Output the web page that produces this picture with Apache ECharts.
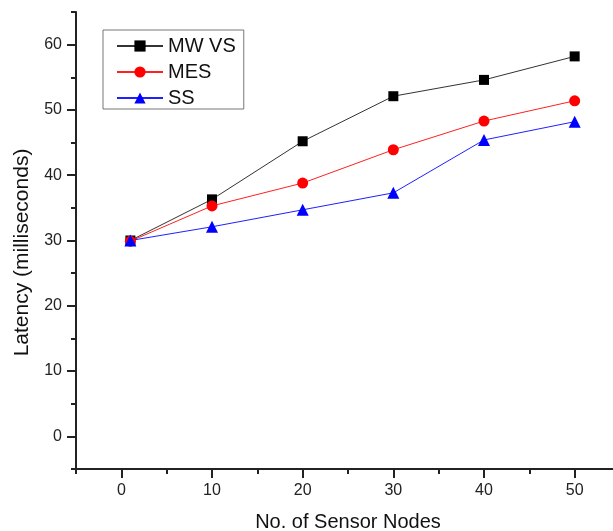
<!DOCTYPE html>
<html>
<head>
<meta charset="utf-8">
<script src="https://cdn.jsdelivr.net/npm/echarts@6/dist/echarts.min.js"></script>
<style>
  html, body { margin: 0; padding: 0; background: #fff; overflow: hidden; }
  #chart { width: 613px; height: 531px; }
</style>
</head>
<body>
<div id="chart"></div>
<script>
/* ---------- data ---------- */
const nodes = [1, 10, 20, 30, 40, 50];
const mwvs = [30.0, 36.3, 45.2, 52.1, 54.6, 58.2];
const mes = [29.9, 35.3, 38.8, 43.9, 48.3, 51.4];
const ss = [30.0, 32.1, 34.7, 37.3, 45.4, 48.2];
const xTicks = [0, 10, 20, 30, 40, 50];
const yTicks = [0, 10, 20, 30, 40, 50, 60];

const FONT = "Liberation Sans";
const pairs = (ys) => nodes.map((x, i) => [x, ys[i]]);

/* ---------- chart ---------- */
const chart = echarts.init(document.getElementById("chart"), null, { renderer: "canvas" });

const axisBase = (extra) => Object.assign({
  type: "value",
  interval: 5,
  axisLine: { onZero: false, lineStyle: { color: "#222", width: 2 } },
  splitLine: { show: false },
}, extra);

chart.setOption({
  animation: false,
  backgroundColor: "#fff",
  // x axis runs to 55, a little past the right edge of the window
  grid: { left: 76, top: 12, width: 544, height: 457, outerBoundsMode: "none", containLabel: false },
  legend: {
    orient: "vertical",
    left: 103,
    top: 30,
    padding: [6, 8, 1, 13],
    itemWidth: 46,
    itemHeight: 14,
    itemGap: 6,
    borderColor: "#777",
    borderWidth: 1,
    textStyle: { fontFamily: FONT, fontSize: 20, color: "#111" },
    data: ["MW VS", "MES", "SS"],
  },
  xAxis: [
    axisBase({
      min: -5, max: 55,
      name: "No. of Sensor Nodes",
      nameLocation: "middle",
      nameGap: 43,
      nameTextStyle: { fontFamily: FONT, fontSize: 20, color: "#111" },
      axisTick: { customValues: xTicks, length: 9, lineStyle: { color: "#222", width: 2 } },
      axisLabel: { customValues: xTicks, margin: 14, fontFamily: FONT, fontSize: 16, color: "#222" },
    }),
    axisBase({
      min: -5, max: 55, position: "bottom",
      axisLine: { show: false, onZero: false },
      axisTick: { length: 5, lineStyle: { color: "#222", width: 2 } },
      axisLabel: { show: false },
    }),
  ],
  yAxis: [
    axisBase({
      min: -5, max: 65,
      name: "Latency (milliseconds)",
      nameLocation: "middle",
      nameGap: 43,
      nameTextStyle: { fontFamily: FONT, fontSize: 21, color: "#111", padding: [0, 24, 0, 0] },
      axisTick: { customValues: yTicks, length: 9, lineStyle: { color: "#222", width: 2 } },
      axisLabel: { customValues: yTicks, margin: 14, fontFamily: FONT, fontSize: 16, color: "#222" },
    }),
    axisBase({
      min: -5, max: 65, position: "left",
      axisLine: { show: false, onZero: false },
      axisTick: { length: 5, lineStyle: { color: "#222", width: 2 } },
      axisLabel: { show: false },
    }),
  ],
  series: [
    {
      name: "MW VS", type: "line", data: pairs(mwvs),
      symbol: "rect", symbolSize: 10,
      itemStyle: { color: "#000" },
      lineStyle: { color: "#333", width: 1 },
    },
    {
      name: "MES", type: "line", data: pairs(mes),
      symbol: "circle", symbolSize: 11,
      itemStyle: { color: "#ff0000" },
      lineStyle: { color: "#ff2020", width: 1 },
    },
    {
      name: "SS", type: "line", data: pairs(ss),
      symbol: "triangle", symbolSize: 12,
      itemStyle: { color: "#0000ff" },
      lineStyle: { color: "#2020ff", width: 1 },
    },
  ],
});
</script>
</body>
</html>
